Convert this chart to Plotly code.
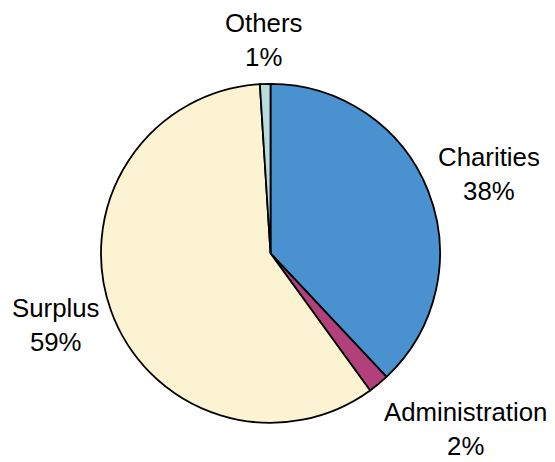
import plotly.graph_objects as go

# Budget allocation shares (percent)
categories = ["Charities", "Administration", "Surplus", "Others"]
shares = [38, 2, 59, 1]
colors = ["#4A91CF", "#B2407A", "#FBF3D2", "#B7DCDD"]

# Label anchor positions in paper coordinates (x, y)
label_pos = {
    "Charities": (0.881, 0.624),
    "Administration": (0.838, 0.072),
    "Surplus": (0.100, 0.296),
    "Others": (0.474, 0.914),
}

W, H = 555, 462
cx, cy, r = 270.5, 253.3, 169.5

fig = go.Figure(
    go.Pie(
        labels=categories,
        values=shares,
        sort=False,
        direction="clockwise",
        rotation=0,
        marker=dict(colors=colors, line=dict(color="black", width=1.8)),
        textinfo="none",
        hoverinfo="label+percent",
        showlegend=False,
        domain=dict(
            x=[(cx - r) / W, (cx + r) / W],
            y=[(H - cy - r) / H, (H - cy + r) / H],
        ),
    )
)

total = sum(shares)
for name, val in zip(categories, shares):
    x, y = label_pos[name]
    fig.add_annotation(
        x=x,
        y=y,
        xref="paper",
        yref="paper",
        text=f"{name}<br>{round(100 * val / total)}%",
        showarrow=False,
        font=dict(family="Arial, Liberation Sans, sans-serif", size=25.8, color="black"),
        align="center",
        xanchor="center",
        yanchor="middle",
    )

fig.update_layout(
    width=W,
    height=H,
    margin=dict(l=0, r=0, t=0, b=0),
    paper_bgcolor="white",
    plot_bgcolor="white",
)

fig.write_html("out.html")
